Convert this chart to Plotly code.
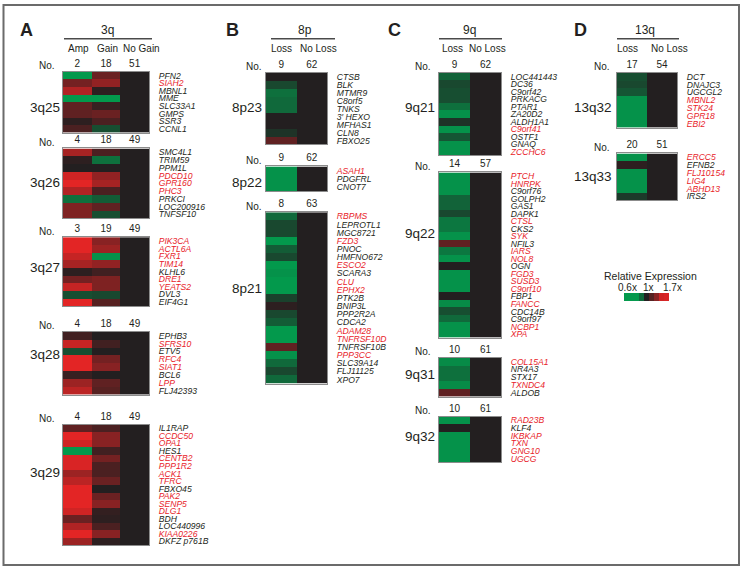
import plotly.graph_objects as go

W, H = 750, 574

# ---------------- DATA ----------------
# values: relative expression on a log-like scale, -1 = 0.6x (green), 0 = 1x (black), +1 = 1.7x (red)

# Panel A: 3q  (columns: Amp, Gain, No Gain)
q25_genes = ["PFN2", "SIAH2", "MBNL1", "MME", "SLC33A1", "GMPS", "SSR3", "CCNL1"]
q25_counts = [2, 18, 51]
q25_amp = [-0.9, 0.4, 0.7, -0.9, 0.3, 0.3, 0.05, 0.2]
q25_gain = [0.35, 0.55, 0.05, -0.9, 0.1, 0.35, 0.2, -0.35]
q25_nogain = [0, 0, 0, 0, 0, 0, 0, 0]

q26_genes = ["SMC4L1", "TRIM59", "PPM1L", "PDCD10", "GPR160", "PHC3", "PRKCI", "LOC200916", "TNFSF10"]
q26_counts = [4, 18, 49]
q26_amp = [0.65, 0.05, 0.0, 0.85, 0.95, 0.7, -0.6, 0.45, 0.45]
q26_gain = [0.2, -0.6, 0.0, 0.55, 0.65, 0.2, -0.45, 0.3, -0.35]
q26_nogain = [0, 0, 0, 0, 0, 0, 0, 0, 0]

q27_genes = ["PIK3CA", "ACTL6A", "FXR1", "TIM14", "KLHL6", "DRE1", "YEATS2", "DVL3", "EIF4G1"]
q27_counts = [3, 19, 49]
q27_amp = [0.95, 0.95, 0.8, 0.65, 0.05, 0.4, 0.8, -0.35, 0.95]
q27_gain = [0.5, 0.6, -0.85, 0.55, 0.15, 0.45, 0.45, -0.3, 0.25]
q27_nogain = [0, 0, 0, 0, 0, 0, 0, 0, 0]

q28_genes = ["EPHB3", "SFRS10", "ETV5", "RFC4", "SIAT1", "BCL6", "LPP", "FLJ42393"]
q28_counts = [4, 18, 49]
q28_amp = [0.15, 0.8, -0.35, 0.95, 0.95, 0.1, 0.6, 0.75]
q28_gain = [0.0, 0.15, 0.0, 0.4, 0.5, 0.0, 0.3, 0.25]
q28_nogain = [0, 0, 0, 0, 0, 0, 0, 0]

q29_genes = ["IL1RAP", "CCDC50", "OPA1", "HES1", "CENTB2", "PPP1R2", "ACK1", "TFRC",
             "FBXO45", "PAK2", "SENP5", "DLG1", "BDH", "LOC440996", "KIAA0226", "DKFZ p761B"]
q29_counts = [4, 18, 49]
q29_amp = [0.3, 0.95, 0.85, -0.9, 0.9, 0.9, 0.6, 0.75, 0.95, 0.95, 0.95, 0.85, 0.35, 0.7, 0.95, 0.6]
q29_gain = [0.2, 0.5, 0.5, 0.15, 0.4, 0.2, 0.2, 0.35, 0.0, 0.35, 0.5, 0.08, 0.05, 0.2, 0.5, 0.05]
q29_nogain = [0, 0, 0, 0, 0, 0, 0, 0, 0, 0, 0, 0, 0, 0, 0, 0]

# Panel B: 8p  (columns: Loss, No Loss)
p23_genes = ["CTSB", "BLK", "MTMR9", "C8orf5", "TNKS", "3\u2032 HEXO", "MFHAS1", "CLN8", "FBXO25"]
p23_counts = [9, 62]
p23_loss = [0.0, -0.3, -0.6, -0.55, -0.55, 0.0, 0.0, -0.15, 0.3]
p23_noloss = [0, 0, 0, 0, 0, 0, 0, 0, 0]

p22_genes = ["ASAH1", "PDGFRL", "CNOT7"]
p22_counts = [9, 62]
p22_loss = [-0.85, -0.85, -0.85]
p22_noloss = [0, 0, 0]

p21_genes = ["RBPMS", "LEPROTL1", "MGC8721", "FZD3", "PNOC", "HMFNO672", "ESCO2", "SCARA3", "CLU",
             "EPHX2", "PTK2B", "BNIP3L", "PPP2R2A", "CDCA2", "ADAM28", "TNFRSF10D", "TNFRSF10B",
             "PPP3CC", "SLC39A14", "FLJ11125", "XPO7"]
p21_counts = [8, 63]
p21_loss = [-0.55, -0.3, -0.3, -0.9, -0.45, -0.3, -0.9, -0.85, -0.9, -0.9, -0.25, 0.05, -0.3,
            -0.45, -0.9, -0.9, 0.3, -0.85, -0.55, -0.3, -0.55]
p21_noloss = [0, 0, 0, 0, 0, 0, 0, 0, 0, 0, 0, 0, 0, 0, 0, 0, 0, 0, 0, 0, 0]

# Panel C: 9q  (columns: Loss, No Loss)
c21_genes = ["LOC441443", "DC36", "C9orf42", "PRKACG", "PTAR1", "ZA20D2", "ALDH1A1", "C9orf41",
             "OSTF1", "GNAQ", "ZCCHC6"]
c21_counts = [9, 62]
c21_loss = [-0.5, -0.3, -0.35, -0.35, -0.6, -0.85, -0.15, -0.85, -0.4, -0.85, -0.85]
c21_noloss = [0, 0, 0, 0, 0, 0, 0, 0, 0, 0, 0]

c22_genes = ["PTCH", "HNRPK", "C9orf76", "GOLPH2", "GAS1", "DAPK1", "CTSL", "CKS2", "SYK", "NFIL3",
             "IARS", "NOL8", "OGN", "FGD3", "SUSD3", "C9orf10", "FBP1", "FANCC", "CDC14B", "C9orf97",
             "NCBP1", "XPA"]
c22_counts = [14, 57]
c22_loss = [-0.85, -0.85, -0.85, -0.5, -0.5, -0.3, -0.65, -0.65, -0.85, 0.3, -0.65, -0.85, 0.0,
            -0.85, -0.85, -0.85, 0.0, -0.8, -0.35, -0.55, -0.85, -0.85]
c22_noloss = [0, 0, 0, 0, 0, 0, 0, 0, 0, 0, 0, 0, 0, 0, 0, 0, 0, 0, 0, 0, 0, 0]

c31_genes = ["COL15A1", "NR4A3", "STX17", "TXNDC4", "ALDOB"]
c31_counts = [10, 61]
c31_loss = [-0.8, -0.6, -0.6, -0.8, 0.3]
c31_noloss = [0, 0, 0, 0, 0]

c32_genes = ["RAD23B", "KLF4", "IKBKAP", "TXN", "GNG10", "UGCG"]
c32_counts = [10, 61]
c32_loss = [-0.85, 0.0, -0.85, -0.85, -0.85, -0.85]
c32_noloss = [0, 0, 0, 0, 0, 0]

# Panel D: 13q  (columns: Loss, No Loss)
d32_genes = ["DCT", "DNAJC3", "UGCGL2", "MBNL2", "STK24", "GPR18", "EBI2"]
d32_counts = [17, 54]
d32_loss = [-0.35, -0.3, -0.4, -0.85, -0.85, -0.85, -0.85]
d32_noloss = [0, 0, 0, 0, 0, 0, 0]

d33_genes = ["ERCC5", "EFNB2", "FLJ10154", "LIG4", "ABHD13", "IRS2"]
d33_counts = [20, 51]
d33_loss = [-0.85, 0.05, -0.85, -0.85, -0.85, -0.2]
d33_noloss = [0, 0, 0, 0, 0, 0]

# genes highlighted (red labels)
red_genes = ["SIAH2", "PDCD10", "GPR160", "PHC3", "PIK3CA", "ACTL6A", "FXR1", "TIM14", "DRE1",
             "YEATS2", "SFRS10", "RFC4", "SIAT1", "LPP", "CCDC50", "OPA1", "CENTB2", "PPP1R2",
             "ACK1", "TFRC", "PAK2", "SENP5", "DLG1", "KIAA0226", "ASAH1", "RBPMS", "FZD3",
             "ESCO2", "CLU", "EPHX2", "ADAM28", "TNFRSF10D", "PPP3CC", "C9orf41", "ZCCHC6",
             "PTCH", "HNRPK", "CTSL", "SYK", "IARS", "NOL8", "FGD3", "SUSD3", "C9orf10", "FANCC",
             "NCBP1", "XPA", "COL15A1", "TXNDC4", "RAD23B", "IKBKAP", "TXN", "GNG10", "UGCG",
             "MBNL2", "STK24", "GPR18", "EBI2", "ERCC5", "FLJ10154", "LIG4", "ABHD13"]

# legend scale levels
legend_levels = [-0.9, -0.9, -0.9, -0.55, 0.0, 0.25, 0.5, 0.85, 0.9]
legend_ticks = ["0.6x", "1x", "1.7x"]

panel_titles = {"A": "3q", "B": "8p", "C": "9q", "D": "13q"}
panel_cols = {"A": ["Amp", "Gain", "No Gain"], "B": ["Loss", "No Loss"],
              "C": ["Loss", "No Loss"], "D": ["Loss", "No Loss"]}

blocks = [
    ("A", "3q25", q25_genes, q25_counts, [q25_amp, q25_gain, q25_nogain]),
    ("A", "3q26", q26_genes, q26_counts, [q26_amp, q26_gain, q26_nogain]),
    ("A", "3q27", q27_genes, q27_counts, [q27_amp, q27_gain, q27_nogain]),
    ("A", "3q28", q28_genes, q28_counts, [q28_amp, q28_gain, q28_nogain]),
    ("A", "3q29", q29_genes, q29_counts, [q29_amp, q29_gain, q29_nogain]),
    ("B", "8p23", p23_genes, p23_counts, [p23_loss, p23_noloss]),
    ("B", "8p22", p22_genes, p22_counts, [p22_loss, p22_noloss]),
    ("B", "8p21", p21_genes, p21_counts, [p21_loss, p21_noloss]),
    ("C", "9q21", c21_genes, c21_counts, [c21_loss, c21_noloss]),
    ("C", "9q22", c22_genes, c22_counts, [c22_loss, c22_noloss]),
    ("C", "9q31", c31_genes, c31_counts, [c31_loss, c31_noloss]),
    ("C", "9q32", c32_genes, c32_counts, [c32_loss, c32_noloss]),
    ("D", "13q32", d32_genes, d32_counts, [d32_loss, d32_noloss]),
    ("D", "13q33", d33_genes, d33_counts, [d33_loss, d33_noloss]),
]

# ---------------- GEOMETRY (pixels) ----------------
# panel: heatmap x0, x1, block-label center x, "No." center x, letter x
PANEL_X = {"A": (63, 149, 45, 47, 27), "B": (266, 327, 247, 254, 233),
           "C": (439, 501, 420, 423, 395), "D": (617, 677, 593, 602, 580)}
# panel header: title x, line x0, line x1, column header x positions
PANEL_HDR = {"A": (108, 64, 152, [78, 107, 141]), "B": (305, 271, 335, [281, 318]),
             "C": (469, 439, 502, [452, 487]), "D": (645, 617, 679, [627, 669])}
# block: heatmap y0, y1, label center y
BLOCK_Y = {"3q25": (71, 132, 107), "3q26": (148, 218, 182), "3q27": (237, 306, 267),
           "3q28": (332, 395, 355), "3q29": (425, 546, 473),
           "8p23": (72, 144, 107), "8p22": (166, 191, 182), "8p21": (212, 384, 289),
           "9q21": (72, 155, 107), "9q22": (172, 338, 233), "9q31": (358, 397, 375),
           "9q32": (417, 463, 437),
           "13q32": (72, 127, 107), "13q33": (153, 200, 176)}

FONT = "Liberation Sans, Arial, Helvetica, sans-serif"
INK = "#231f20"
RED = "#e8232a"
CS = [[0.0, "rgb(0,166,81)"], [0.5, "rgb(35,31,32)"], [1.0, "rgb(237,37,37)"]]


def fx(px):
    return px / W


def fy(py):
    return 1 - py / H


fig = go.Figure()
layout = dict(width=W, height=H, margin=dict(l=0, r=0, t=0, b=0),
              paper_bgcolor="white", plot_bgcolor="white", showlegend=False,
              font=dict(family=FONT, color=INK))
annotations = []
shapes = []

for i, (panel, label, genes, counts, cols) in enumerate(blocks, start=1):
    x0, x1, lab_x, no_x, _ = PANEL_X[panel]
    y0, y1, lab_y = BLOCK_Y[label]
    n = len(genes)
    nc = len(cols)
    z = [[c[r] for c in cols] for r in range(n)]
    sfx = "" if i == 1 else str(i)
    fig.add_trace(go.Heatmap(z=z, x=list(range(nc)), y=list(range(n)),
                             xaxis="x" + sfx, yaxis="y" + sfx,
                             colorscale=CS, zmin=-1, zmax=1, showscale=False,
                             hoverinfo="skip"))
    ticktext = []
    for g in genes:
        if g in red_genes:
            ticktext.append(f"<i><span style='color:{RED}'>{g}</span></i>")
        else:
            ticktext.append(f"<i>{g}</i>")
    layout["xaxis" + sfx] = dict(domain=[fx(x0), fx(x1)], anchor="y" + sfx, side="top",
                                 range=[-0.5, nc - 0.5], tickvals=list(range(nc)),
                                 ticktext=[str(c) for c in counts], ticks="",
                                 tickfont=dict(size=10, color=INK, family=FONT),
                                 ticklabelstandoff=0,
                                 showgrid=False, zeroline=False, showline=True, mirror=True,
                                 linecolor="#8c8c8c", linewidth=1, fixedrange=True)
    layout["yaxis" + sfx] = dict(domain=[fy(y1), fy(y0)], anchor="x" + sfx, side="right",
                                 range=[n - 0.5, -0.5], tickvals=list(range(n)),
                                 ticktext=ticktext, ticks="",
                                 tickfont=dict(size=8.6, color=INK, family=FONT, style="italic"),
                                 ticklabelstandoff=7,
                                 showgrid=False, zeroline=False, showline=True, mirror=True,
                                 linecolor="#8c8c8c", linewidth=1, fixedrange=True)
    annotations.append(dict(x=fx(lab_x), y=fy(lab_y), xref="paper", yref="paper",
                            text=label, showarrow=False, xanchor="center", yanchor="middle",
                            font=dict(size=13.5, color=INK, family=FONT)))
    annotations.append(dict(x=fx(no_x), y=fy(y0 - 6), xref="paper", yref="paper",
                            text="No.", showarrow=False, xanchor="center", yanchor="middle",
                            font=dict(size=10, color=INK, family=FONT)))

# panel headers
for panel, title in panel_titles.items():
    tx, lx0, lx1, col_x = PANEL_HDR[panel]
    letter_x = PANEL_X[panel][4]
    annotations.append(dict(x=fx(letter_x), y=fy(29), xref="paper", yref="paper", text=f"<b>{panel}</b>",
                            showarrow=False, xanchor="center", yanchor="middle",
                            font=dict(size=18, color=INK, family=FONT)))
    annotations.append(dict(x=fx(tx), y=fy(29), xref="paper", yref="paper", text=title,
                            showarrow=False, xanchor="center", yanchor="middle",
                            font=dict(size=12, color=INK, family=FONT)))
    shapes.append(dict(type="line", xref="paper", yref="paper", x0=fx(lx0), x1=fx(lx1),
                       y0=fy(38), y1=fy(38), line=dict(color="#4a4a4a", width=1.5)))
    for cname, cx in zip(panel_cols[panel], col_x):
        annotations.append(dict(x=fx(cx), y=fy(48), xref="paper", yref="paper", text=cname,
                                showarrow=False, xanchor="center", yanchor="middle",
                                font=dict(size=10, color=INK, family=FONT)))

# legend bar
li = len(blocks) + 1
fig.add_trace(go.Heatmap(z=[legend_levels], x=list(range(len(legend_levels))), y=[0],
                         xaxis=f"x{li}", yaxis=f"y{li}", colorscale=CS, zmin=-1, zmax=1,
                         showscale=False, hoverinfo="skip"))
layout[f"xaxis{li}"] = dict(domain=[fx(624), fx(669)], anchor=f"y{li}", visible=False,
                            range=[-0.5, len(legend_levels) - 0.5], fixedrange=True)
layout[f"yaxis{li}"] = dict(domain=[fy(301), fy(293)], anchor=f"x{li}", visible=False,
                            range=[-0.5, 0.5], fixedrange=True)
annotations.append(dict(x=fx(650), y=fy(276), xref="paper", yref="paper", text="Relative Expression",
                        showarrow=False, xanchor="center", yanchor="middle",
                        font=dict(size=10.5, color=INK, family=FONT)))
for t, lx in zip(legend_ticks, [627, 648, 672]):
    annotations.append(dict(x=fx(lx), y=fy(287), xref="paper", yref="paper", text=t,
                            showarrow=False, xanchor="center", yanchor="middle",
                            font=dict(size=10, color=INK, family=FONT)))

# outer frame
shapes.append(dict(type="rect", xref="paper", yref="paper", x0=fx(3.5), x1=fx(739),
                   y0=fy(566), y1=fy(4), line=dict(color="#6b6b6b", width=2)))

layout["annotations"] = annotations
layout["shapes"] = shapes
fig.update_layout(**layout)
fig.write_html("out.html", config={"displayModeBar": False},
               post_script="document.body.style.margin='0';document.body.style.overflow='hidden';")
